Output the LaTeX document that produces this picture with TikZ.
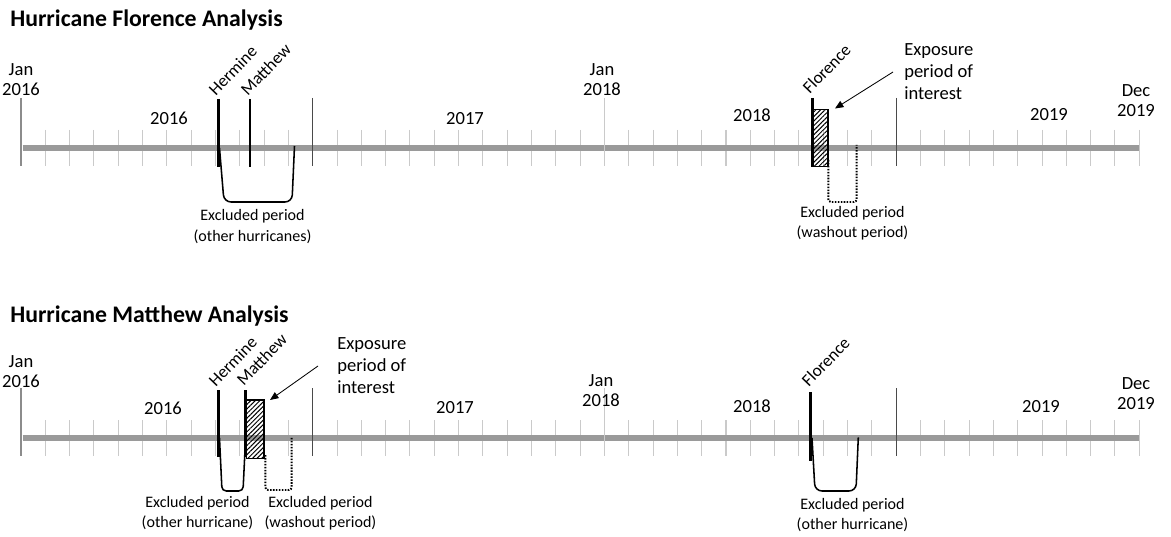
\documentclass[tikz,border=0pt]{standalone}
\usepackage{fontspec}
\setmainfont{Carlito}
\usetikzlibrary{arrows.meta,patterns.meta}

\definecolor{barGray}{HTML}{9A9A9A}
\definecolor{tickLight}{HTML}{CACACA}
\definecolor{tickMid}{HTML}{8C8C8C}
\definecolor{tickDark}{HTML}{4A4A4A}

\tikzset{
  axisbar/.style={line width=3.9pt, draw=barGray},
  minortick/.style={line width=0.75pt, draw=tickLight},
  yeartick/.style={line width=0.75pt},
  storm/.style={line width=2.1pt},
  stormlabel/.style={rotate=46, anchor=south west, inner sep=0pt, font=\fontsize{12.3}{14}\selectfont},
  yearlabel/.style={align=center, inner sep=0pt, font=\fontsize{13.2}{14.2}\selectfont},
  exclnote/.style={align=center, inner sep=0pt, font=\fontsize{11.4}{14.6}\selectfont},
  exponote/.style={anchor=west, align=left, inner ysep=0pt, font=\fontsize{13.2}{15.6}\selectfont},
  hatchbox/.style={draw, line width=0.9pt, inner sep=0pt,
    pattern={Lines[angle=45,distance=2.3pt,line width=0.7pt]}},
  excluded/.style={line width=1.1pt, rounded corners=5pt},
  washout/.style={line width=1.4pt, dash pattern=on 1.1pt off 1pt, rounded corners=2pt},
  pointer/.style={line width=0.6pt, -{Triangle[length=6pt,width=5pt]}},
  paneltitle/.style={anchor=west, inner sep=0pt, font=\fontsize{16.9}{19}\selectfont\bfseries},
}

% monthly axis, Jan 2016 (month 0) to Dec 2019 (month 46)
\newcommand{\drawtimeline}{%
  \foreach \m in {0,...,46}
    \draw[minortick] ({21+24.31*\m},130) -- ({21+24.31*\m},166);
  \draw[axisbar] (22.5,148) -- (1139,148);
  \foreach \m/\c in {0/tickMid,12/tickDark,24/tickLight,36/tickDark}
    \draw[yeartick, draw=\c] ({21+24.31*\m},98) -- ({21+24.31*\m},166);
}

\begin{document}
\begin{tikzpicture}[x=0.025cm, y=-0.025cm]
  \useasboundingbox (0,0) rectangle (1171,537);

  % Hurricane Florence Analysis
  \node[paneltitle] (flo-title) at (10,20) {Hurricane Florence Analysis};
  \drawtimeline
  \node[yearlabel] (flo-jan16) at (21,80) {Jan\\2016};
  \node[yearlabel] (flo-y16) at (169,118) {2016};
  \node[yearlabel] (flo-y17) at (465,119) {2017};
  \node[yearlabel] (flo-jan18) at (602,80) {Jan\\2018};
  \node[yearlabel] (flo-y18) at (752,115) {2018};
  \node[yearlabel] (flo-y19) at (1049,115) {2019};
  \node[yearlabel] (flo-dec19) at (1136,101) {Dec\\2019};

  \draw[excluded] (219.5,148) -- (224,202) -- (292,202) -- (294.5,146);
  \draw[storm] (218.5,99) -- (218.5,167);
  \draw[storm] (250,99) -- (250,167);
  \node[stormlabel] (flo-hermine) at (216,97) {Hermine};
  \node[stormlabel] (flo-matthew) at (248,97) {Matthew};
  \node[exclnote] (flo-other) at (252.5,226.5) {Excluded period\\(other hurricanes)};

  \draw[washout] (828.3,160) -- (828.3,202) -- (856.7,202) -- (856.7,145);
  \node[hatchbox, minimum width=0.375cm, minimum height=1.435cm] (flo-box) at (820.5,138) {};
  \draw[storm] (812.3,98) -- (812.3,167);
  \node[stormlabel] (flo-florence) at (810,95) {Florence};
  \node[exclnote] (flo-washout) at (852.5,223) {Excluded period\\(washout period)};
  \node[exponote, inner xsep=7.8pt] (flo-expo) at (893,72) {Exposure\\period of\\interest};
  \coordinate (flo-tip) at (835,108.5);
  \draw[pointer] (flo-expo.west) -- (flo-tip);

  % Hurricane Matthew Analysis
  \node[paneltitle] (mat-title) at (10,316) {Hurricane Matthew Analysis};
  \begin{scope}[shift={(0,290)}]
    \drawtimeline
    \node[yearlabel] (mat-jan16) at (21,82) {Jan\\2016};
    \node[yearlabel] (mat-y16) at (163,118) {2016};
    \node[yearlabel] (mat-y17) at (455,118) {2017};
    \node[yearlabel] (mat-jan18) at (601,101) {Jan\\2018};
    \node[yearlabel] (mat-y18) at (752,116) {2018};
    \node[yearlabel] (mat-y19) at (1041,117) {2019};
    \node[yearlabel] (mat-dec19) at (1136,104) {Dec\\2019};

    \draw[excluded, rounded corners=3pt] (219.5,148) -- (222,201) -- (243,201) -- (245.5,150);
    \draw[washout] (265.3,165) -- (265.3,200) -- (291.7,200) -- (291.7,147.3);
    \node[hatchbox, minimum width=0.4375cm, minimum height=1.4575cm] (mat-box) at (255.2,139.2) {};
    \draw[storm] (218.5,100) -- (218.5,167);
    \draw[storm] (245.7,100) -- (245.7,167);
    \node[stormlabel] (mat-hermine) at (216,98) {Hermine};
    \node[stormlabel] (mat-matthew) at (244,97) {Matthew};
    \node[exclnote] (mat-other) at (197.5,223) {Excluded period\\(other hurricane)};
    \node[exclnote] (mat-washout) at (320.5,223) {Excluded period\\(washout period)};
    \node[exponote, inner xsep=13.5pt] (mat-expo) at (318,76) {Exposure\\period of\\interest};
    \coordinate (mat-tip) at (270,110);
    \draw[pointer] (mat-expo.west) -- (mat-tip);

    \draw[excluded] (812,148) -- (815,201) -- (856,201) -- (858.3,147.3);
    \draw[storm] (810.7,102) -- (810.7,171);
    \node[stormlabel] (mat-florence) at (809,98) {Florence};
    \node[exclnote] (mat-other2) at (852.5,225) {Excluded period\\(other hurricane)};
  \end{scope}
\end{tikzpicture}
\end{document}
